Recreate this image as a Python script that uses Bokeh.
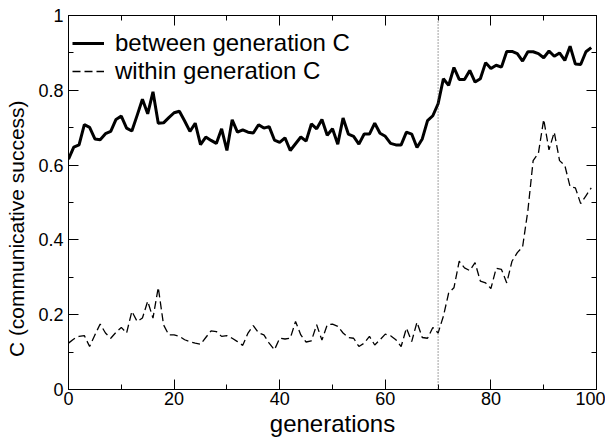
from bokeh.plotting import figure
from bokeh.models import (FixedTicker, LinearAxis, Span, Legend, LegendItem,
                          CustomJSTickFormatter, Range1d)
from bokeh.embed import file_html
from bokeh.resources import INLINE

generations = list(range(100))

between_c = [
    0.616, 0.648, 0.654, 0.708, 0.701, 0.670, 0.668, 0.684, 0.690, 0.722,
    0.731, 0.699, 0.691, 0.733, 0.776, 0.737, 0.796, 0.712, 0.713, 0.727,
    0.740, 0.744, 0.718, 0.690, 0.712, 0.655, 0.675, 0.666, 0.658, 0.697,
    0.639, 0.721, 0.688, 0.694, 0.688, 0.686, 0.708, 0.699, 0.703, 0.667,
    0.661, 0.673, 0.639, 0.657, 0.675, 0.664, 0.710, 0.697, 0.722, 0.680,
    0.697, 0.656, 0.726, 0.683, 0.677, 0.656, 0.683, 0.683, 0.712, 0.685,
    0.677, 0.658, 0.654, 0.654, 0.688, 0.683, 0.647, 0.670, 0.719, 0.732,
    0.764, 0.831, 0.813, 0.861, 0.829, 0.829, 0.853, 0.822, 0.831, 0.874,
    0.858, 0.867, 0.862, 0.904, 0.904, 0.898, 0.878, 0.903, 0.903, 0.898,
    0.887, 0.905, 0.891, 0.900, 0.880, 0.918, 0.870, 0.869, 0.903, 0.914,
]

within_c = [
    0.124, 0.135, 0.142, 0.144, 0.115, 0.146, 0.175, 0.151, 0.137, 0.153,
    0.166, 0.151, 0.209, 0.182, 0.191, 0.236, 0.191, 0.273, 0.173, 0.146,
    0.146, 0.142, 0.133, 0.128, 0.124, 0.121, 0.139, 0.157, 0.155, 0.142,
    0.144, 0.137, 0.128, 0.118, 0.151, 0.171, 0.151, 0.146, 0.124, 0.106,
    0.137, 0.135, 0.137, 0.182, 0.146, 0.127, 0.130, 0.173, 0.132, 0.173,
    0.175, 0.169, 0.151, 0.139, 0.137, 0.115, 0.124, 0.142, 0.119, 0.133,
    0.148, 0.144, 0.133, 0.115, 0.164, 0.128, 0.180, 0.139, 0.137, 0.166,
    0.151, 0.196, 0.258, 0.272, 0.343, 0.325, 0.318, 0.339, 0.290, 0.285,
    0.270, 0.324, 0.321, 0.285, 0.343, 0.366, 0.381, 0.478, 0.612, 0.632,
    0.722, 0.641, 0.688, 0.612, 0.599, 0.542, 0.539, 0.497, 0.518, 0.539,
]

x_ticks = [0, 20, 40, 60, 80, 100]
x_minor = [10, 30, 50, 70, 90]
y_ticks = [0, 0.2, 0.4, 0.6, 0.8, 1]
y_minor = [0.1, 0.3, 0.5, 0.7, 0.9]
marker_gen = 70

FONT = "Liberation Sans"

p = figure(width=605, height=439, output_backend="svg", toolbar_location=None,
           x_range=Range1d(0, 100), y_range=Range1d(0, 1),
           min_border_left=68, min_border_right=9, min_border_top=15,
           min_border_bottom=39)
p.xgrid.visible = False
p.ygrid.visible = False
p.outline_line_color = "black"
p.outline_line_width = 1
p.background_fill_color = "white"
p.border_fill_color = "white"

fmt = CustomJSTickFormatter(code="return String(Math.round(tick*10)/10);")
blank = CustomJSTickFormatter(code="return '';")


def style_axis(ax, ticks, minor, labels=True):
    ax.ticker = FixedTicker(ticks=ticks, minor_ticks=minor)
    ax.axis_line_color = "black"
    ax.major_tick_in = 10
    ax.major_tick_out = 0
    ax.minor_tick_in = 5
    ax.minor_tick_out = 0
    ax.major_tick_line_color = "black"
    ax.minor_tick_line_color = "black"
    ax.major_label_text_font = FONT
    ax.major_label_text_font_size = "18px"
    ax.major_label_text_color = "black"
    ax.axis_label_text_font = FONT
    ax.axis_label_text_font_style = "normal"
    ax.axis_label_text_color = "black"
    if not labels:
        ax.formatter = blank
        ax.major_label_text_color = None
        ax.major_label_text_font_size = "1px"
        ax.major_label_standoff = 0


xa = p.xaxis[0]
style_axis(xa, x_ticks, x_minor)
xa.formatter = fmt
xa.axis_label = "generations"
xa.axis_label_text_font_size = "24px"
xa.major_label_standoff = 2
xa.axis_label_standoff = 2

ya = p.yaxis[0]
style_axis(ya, y_ticks, y_minor)
ya.formatter = fmt
ya.axis_label = "C (communicative success)" + "\u00a0" * 9
ya.axis_label_text_font_size = "21px"
ya.major_label_standoff = 5
ya.axis_label_standoff = 7

top = LinearAxis()
style_axis(top, x_ticks, x_minor, labels=False)
p.add_layout(top, "above")

right = LinearAxis()
style_axis(right, y_ticks, y_minor, labels=False)
p.add_layout(right, "right")

p.add_layout(Span(location=marker_gen, dimension="height", line_color="#444444",
                  line_width=1, line_dash="1 2"))

r1 = p.line(generations, between_c, line_color="black", line_width=3)
r2 = p.line(generations, within_c, line_color="black", line_width=1.3,
            line_dash="8 4")

legend = Legend(items=[LegendItem(label="between generation C", renderers=[r1]),
                       LegendItem(label="within generation C", renderers=[r2])],
                location=(4, 304), border_line_color=None,
                background_fill_alpha=0, margin=0, padding=3,
                glyph_width=32, glyph_height=28, spacing=0, label_standoff=11,
                label_text_font=FONT, label_text_font_size="24px",
                label_text_color="black")
p.add_layout(legend)

open("out.html", "w").write(file_html(p, INLINE))
